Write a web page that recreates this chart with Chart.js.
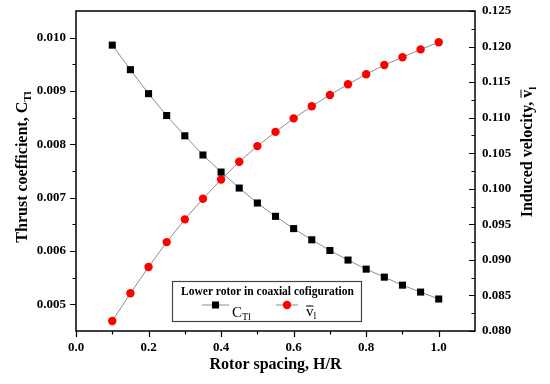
<!DOCTYPE html>
<html><head><meta charset="utf-8">
<script src="https://cdn.jsdelivr.net/npm/chart.js@4/dist/chart.umd.min.js"></script>
<style>html,body{margin:0;padding:0;background:#fff}</style>
</head><body>
<canvas id="c" width="550" height="384"></canvas>
<script>
// ---- data ----
const spacing = [0.1,0.15,0.2,0.25,0.3,0.35,0.4,0.45,0.5,0.55,0.6,0.65,0.7,0.75,0.8,0.85,0.9,0.95,1.0];
const thrustCoeff = [0.00986,0.00940,0.00895,0.00854,0.00816,0.00780,0.00748,0.00718,0.00690,0.00665,0.00642,0.00621,0.00601,0.00583,0.00566,0.00551,0.00536,0.00523,0.00510];
const inducedVel = [0.0814,0.0853,0.0890,0.0925,0.0957,0.0986,0.1013,0.1038,0.1060,0.1080,0.1099,0.1116,0.1132,0.1147,0.1161,0.1174,0.1185,0.1196,0.1206];
const xTicks = [0,0.2,0.4,0.6,0.8,1.0];
const xMinor = [0.1,0.3,0.5,0.7,0.9];
const leftTicks = [0.005,0.006,0.007,0.008,0.009,0.010];
const leftMinor = [0.0055,0.0065,0.0075,0.0085,0.0095];
const rightTicks = [0.080,0.085,0.090,0.095,0.100,0.105,0.110,0.115,0.120,0.125];
const rightMinor = [0.0825,0.0875,0.0925,0.0975,0.1025,0.1075,0.1125,0.1175,0.1225];
const legendTitle = 'Lower rotor in coaxial cofiguration';

const SERIF = '"Liberation Serif","Times New Roman",serif';
const tickFont = {family: SERIF, size: 13, weight: 'bold'};

function richWidth(ctx, parts){let w=0;parts.forEach(p=>{ctx.font=p.font;w+=ctx.measureText(p.text).width;});return w;}
function drawRich(ctx, parts, x, y, align){
  const w = richWidth(ctx, parts);
  let cx = align==='left' ? x : x - w/2;
  ctx.textBaseline='alphabetic'; ctx.textAlign='left'; ctx.fillStyle='#000';
  parts.forEach(p=>{
    ctx.font=p.font;
    const tw = ctx.measureText(p.text).width;
    ctx.fillText(p.text, cx, y+(p.dy||0));
    if(p.overline){
      ctx.save(); ctx.strokeStyle='#000'; ctx.lineWidth=1;
      ctx.beginPath(); ctx.moveTo(cx, y+p.overline); ctx.lineTo(cx+tw, y+p.overline); ctx.stroke(); ctx.restore();
    }
    cx += tw;
  });
}
function noPad(s){s.paddingTop=0;s.paddingBottom=0;s.paddingLeft=0;s.paddingRight=0;}

const framePlugin = {
  id:'frame',
  afterDraw(chart){
    const {ctx, chartArea:a, scales} = chart;
    const x = scales.x, y = scales.y, y1 = scales.y1;
    ctx.save();
    ctx.strokeStyle='#000'; ctx.lineWidth=1.5;
    ctx.strokeRect(a.left, a.top, a.right-a.left, a.bottom-a.top);
    ctx.lineWidth=1.2;
    ctx.beginPath();
    xTicks.forEach(v=>{const p=Math.round(x.getPixelForValue(v))+0.5;ctx.moveTo(p,a.bottom);ctx.lineTo(p,a.bottom+6);});
    xMinor.forEach(v=>{const p=Math.round(x.getPixelForValue(v))+0.5;ctx.moveTo(p,a.bottom);ctx.lineTo(p,a.bottom+3.5);});
    leftTicks.forEach(v=>{const p=Math.round(y.getPixelForValue(v))+0.5;ctx.moveTo(a.left,p);ctx.lineTo(a.left-6,p);});
    leftMinor.forEach(v=>{const p=Math.round(y.getPixelForValue(v))+0.5;ctx.moveTo(a.left,p);ctx.lineTo(a.left-3.5,p);});
    rightTicks.forEach(v=>{const p=Math.round(y1.getPixelForValue(v))+0.5;ctx.moveTo(a.right,p);ctx.lineTo(a.right-6,p);});
    rightMinor.forEach(v=>{const p=Math.round(y1.getPixelForValue(v))+0.5;ctx.moveTo(a.right,p);ctx.lineTo(a.right-3.5,p);});
    ctx.stroke();

    // axis titles
    const tf = 'bold 16px '+SERIF, sf = 'bold 11px '+SERIF;
    drawRich(ctx, [{text:'Rotor spacing, H/R', font:tf}], (a.left+a.right)/2, 369);
    ctx.save(); ctx.translate(27, 167); ctx.rotate(-Math.PI/2);
    drawRich(ctx, [{text:'Thrust coefficient, C', font:tf},{text:'Tl', font:sf, dy:4}], 0, 0);
    ctx.restore();
    ctx.save(); ctx.translate(532, 152); ctx.rotate(-Math.PI/2);
    drawRich(ctx, [{text:'Induced velocity, ', font:tf},{text:'v', font:tf, overline:-11},{text:'l', font:sf, dy:4}], 0, 0);
    ctx.restore();

    // legend box
    const bx=172, by=281, bw=189, bh=40;
    ctx.strokeStyle='#444'; ctx.lineWidth=1.2;
    ctx.strokeRect(bx+0.5, by+0.5, bw, bh);
    drawRich(ctx, [{text:legendTitle, font:'bold 11.5px '+SERIF}], bx+bw/2+1, 295);
    const ds = chart.data.datasets;
    const my = 305;
    // item 1
    ctx.strokeStyle=ds[0].borderColor; ctx.lineWidth=1;
    ctx.beginPath(); ctx.moveTo(202,my); ctx.lineTo(229,my); ctx.stroke();
    ctx.fillStyle=ds[0].pointBackgroundColor; ctx.fillRect(212,my-3.5,7,7);
    drawRich(ctx, [{text:'C', font:'15px '+SERIF},{text:'Tl', font:'10px '+SERIF, dy:3}], 232, 317, 'left');
    // item 2
    ctx.strokeStyle=ds[1].borderColor; ctx.lineWidth=1;
    ctx.beginPath(); ctx.moveTo(276,my); ctx.lineTo(298,my); ctx.stroke();
    ctx.fillStyle=ds[1].pointBackgroundColor;
    ctx.beginPath(); ctx.arc(287, my, 4.2, 0, Math.PI*2); ctx.fill();
    drawRich(ctx, [{text:'v', font:'15px '+SERIF, overline:-10},{text:'l', font:'10px '+SERIF, dy:3}], 306, 316, 'left');
    ctx.restore();
  }
};

new Chart(document.getElementById('c'), {
  type:'line',
  data:{datasets:[
    {label:'CTl', data: spacing.map((s,i)=>({x:s,y:thrustCoeff[i]})), yAxisID:'y',
     borderColor:'#8c8c8c', borderWidth:1, pointStyle:'rect', pointRadius:5, pointHoverRadius:5,
     pointBackgroundColor:'#000', pointBorderColor:'#000', pointBorderWidth:0, tension:0},
    {label:'vl', data: spacing.map((s,i)=>({x:s,y:inducedVel[i]})), yAxisID:'y1',
     borderColor:'#8c8c8c', borderWidth:1, pointStyle:'circle', pointRadius:4.2, pointHoverRadius:4.2,
     pointBackgroundColor:'#ff0000', pointBorderColor:'#ff0000', pointBorderWidth:0, tension:0}
  ]},
  options:{
    responsive:false, animation:false, devicePixelRatio:1,
    layout:{padding:{top:11,left:0,right:0,bottom:0}},
    plugins:{legend:{display:false}, tooltip:{enabled:false}},
    scales:{
      x:{type:'linear', position:'bottom', min:0, max:1.1,
         afterBuildTicks:s=>{s.ticks = xTicks.map(v=>({value:v}));},
         afterFit:s=>{s.height=53; noPad(s);},
         grid:{drawOnChartArea:false, drawTicks:false}, border:{display:false},
         ticks:{color:'#000', font:tickFont, padding:9, maxRotation:0, callback:v=>v.toFixed(1)}},
      y:{type:'linear', position:'left', min:0.0045, max:0.0105,
         afterBuildTicks:s=>{s.ticks = leftTicks.map(v=>({value:v}));},
         afterFit:s=>{s.width=76; noPad(s);},
         grid:{drawOnChartArea:false, drawTicks:false}, border:{display:false},
         ticks:{color:'#000', font:tickFont, padding:10, callback:v=>v.toFixed(3)}},
      y1:{type:'linear', position:'right', min:0.080, max:0.125,
         afterBuildTicks:s=>{s.ticks = rightTicks.map(v=>({value:v}));},
         afterFit:s=>{s.width=75; noPad(s);},
         grid:{drawOnChartArea:false, drawTicks:false}, border:{display:false},
         ticks:{color:'#000', font:tickFont, padding:7, callback:v=>v.toFixed(3)}}
    }
  },
  plugins:[framePlugin]
});
</script>
</body></html>
